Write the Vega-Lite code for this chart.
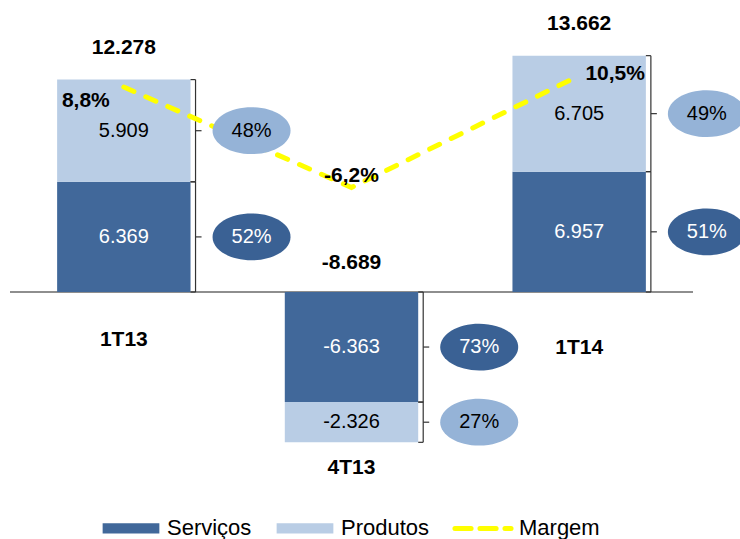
{
 "$schema": "https://vega.github.io/schema/vega-lite/v6.json",
 "width": 683,
 "height": 480,
 "autosize": {"type": "none"},
 "padding": {"left": 10, "top": 0, "right": 47, "bottom": 59},
 "background": "white",
 "config": {
  "view": {"stroke": null},
  "font": "Liberation Sans",
  "locale": {"number": {"decimal": ",", "thousands": ".", "grouping": [3], "currency": ["R$", ""], "minus": "-", "percent": "%"}}
 },
 "datasets": {
  "seg": [
   {"cat": "1T13", "serie": "Serviços", "value": 6369, "pct": 0.52},
   {"cat": "1T13", "serie": "Produtos", "value": 5909, "pct": 0.48},
   {"cat": "4T13", "serie": "Serviços", "value": -6363, "pct": 0.73},
   {"cat": "4T13", "serie": "Produtos", "value": -2326, "pct": 0.27},
   {"cat": "1T14", "serie": "Serviços", "value": 6957, "pct": 0.51},
   {"cat": "1T14", "serie": "Produtos", "value": 6705, "pct": 0.49}
  ],
  "tot": [
   {"cat": "1T13", "total": 12278, "margem": 0.088},
   {"cat": "4T13", "total": -8689, "margem": -0.062},
   {"cat": "1T14", "total": 13662, "margem": 0.105}
  ]
 },
 "layer": [
  {
   "layer": [
    {
     "data": {"name": "tot"},
     "mark": {"type": "rule", "color": "#8C8C8C", "strokeWidth": 1.3},
     "encoding": {"y": {"datum": 0, "type": "quantitative", "scale": {"domain": [-10867, 16879], "nice": false, "zero": false}, "axis": null}}
    },
    {
     "data": {"name": "seg"},
     "transform": [
      {"stack": "value", "groupby": ["cat"], "sort": [{"field": "serie", "order": "descending"}], "as": ["y0", "y1"]},
      {"calculate": "(datum.y0+datum.y1)/2", "as": "ymid"}
     ],
     "mark": {"type": "bar"},
     "encoding": {
      "x": {"field": "cat", "type": "nominal", "scale": {"domain": ["1T13", "4T13", "1T14"], "paddingInner": 0.414, "paddingOuter": 0.207}, "axis": null},
      "y": {"field": "y0", "type": "quantitative", "scale": {"domain": [-10867, 16879], "nice": false, "zero": false}, "axis": null},
      "y2": {"field": "y1"},
      "color": {
       "field": "serie", "type": "nominal",
       "scale": {"domain": ["Serviços", "Produtos", "Margem"], "range": ["#41689A", "#B9CDE5", "#FFFF00"]},
       "legend": {
        "orient": "none", "legendX": 88, "legendY": 495, "direction": "horizontal", "title": null,
        "labelFontSize": 22, "labelFont": "Liberation Sans", "labelColor": "black",
        "symbolSize": 3721, "symbolStrokeWidth": 5, "labelOffset": 3, "columnPadding": 14, "padding": 0,
        "encode": {"symbols": {"update": {
         "shape": {"signal": "datum.value === 'Margem' ? 'M-0.93,-0.17M-0.93,0.17M-0.92,0H-0.39M-0.1,0H0.43M0.72,0H0.92' : 'M-0.93,-0.17H0.93V0.17H-0.93Z'"},
         "size": {"value": 3721},
         "stroke": {"signal": "datum.value === 'Margem' ? '#FFFF00' : 'transparent'"},
         "strokeWidth": {"value": 5},
         "strokeCap": {"value": "round"},
         "opacity": {"value": 1}
        }}}
       }
      }
     }
    },
    {
     "data": {"name": "seg"},
     "transform": [
      {"stack": "value", "groupby": ["cat"], "sort": [{"field": "serie", "order": "descending"}], "as": ["y0", "y1"]},
      {"calculate": "(datum.y0+datum.y1)/2", "as": "ymid"}
     ],
     "mark": {"type": "text", "fontSize": 20},
     "encoding": {
      "x": {"field": "cat", "type": "nominal", "scale": {"domain": ["1T13", "4T13", "1T14"], "paddingInner": 0.414, "paddingOuter": 0.207}, "axis": null},
      "y": {"field": "ymid", "type": "quantitative"},
      "text": {"field": "value", "type": "quantitative", "format": ",.0f"},
      "color": {"condition": {"test": "datum.serie === 'Serviços'", "value": "white"}, "value": "black"}
     }
    },
    {
     "data": {"name": "seg"},
     "transform": [
      {"stack": "value", "groupby": ["cat"], "sort": [{"field": "serie", "order": "descending"}], "as": ["y0", "y1"]}
     ],
     "mark": {"type": "rule", "color": "#333333", "strokeWidth": 1.2, "xOffset": 5},
     "encoding": {
      "x": {"field": "cat", "type": "nominal", "bandPosition": 1, "scale": {"domain": ["1T13", "4T13", "1T14"], "paddingInner": 0.414, "paddingOuter": 0.207}, "axis": null},
      "y": {"field": "y0", "type": "quantitative"},
      "y2": {"field": "y1"}
     }
    },
    {
     "data": {"name": "seg"},
     "transform": [
      {"stack": "value", "groupby": ["cat"], "sort": [{"field": "serie", "order": "descending"}], "as": ["y0", "y1"]}
     ],
     "mark": {"type": "rule", "color": "#333333", "strokeWidth": 1.2, "xOffset": 0, "x2Offset": 5},
     "encoding": {
      "x": {"field": "cat", "type": "nominal", "bandPosition": 1, "scale": {"domain": ["1T13", "4T13", "1T14"], "paddingInner": 0.414, "paddingOuter": 0.207}, "axis": null},
      "x2": {"field": "cat", "bandPosition": 1},
      "y": {"field": "y0", "type": "quantitative"}
     }
    },
    {
     "data": {"name": "seg"},
     "transform": [
      {"stack": "value", "groupby": ["cat"], "sort": [{"field": "serie", "order": "descending"}], "as": ["y0", "y1"]}
     ],
     "mark": {"type": "rule", "color": "#333333", "strokeWidth": 1.2, "xOffset": 0, "x2Offset": 5},
     "encoding": {
      "x": {"field": "cat", "type": "nominal", "bandPosition": 1, "scale": {"domain": ["1T13", "4T13", "1T14"], "paddingInner": 0.414, "paddingOuter": 0.207}, "axis": null},
      "x2": {"field": "cat", "bandPosition": 1},
      "y": {"field": "y1", "type": "quantitative"}
     }
    },
    {
     "data": {"name": "seg"},
     "transform": [
      {"stack": "value", "groupby": ["cat"], "sort": [{"field": "serie", "order": "descending"}], "as": ["y0", "y1"]},
      {"calculate": "(datum.y0+datum.y1)/2", "as": "ymid"}
     ],
     "mark": {"type": "rule", "color": "#333333", "strokeWidth": 1.2, "xOffset": 5, "x2Offset": 11},
     "encoding": {
      "x": {"field": "cat", "type": "nominal", "bandPosition": 1, "scale": {"domain": ["1T13", "4T13", "1T14"], "paddingInner": 0.414, "paddingOuter": 0.207}, "axis": null},
      "x2": {"field": "cat", "bandPosition": 1},
      "y": {"field": "ymid", "type": "quantitative"}
     }
    },
    {
     "data": {"name": "tot"},
     "transform": [{"filter": "datum.total > 0"}],
     "mark": {"type": "text", "fontSize": 21, "fontWeight": "bold", "dy": -32},
     "encoding": {
      "x": {"field": "cat", "type": "nominal", "scale": {"domain": ["1T13", "4T13", "1T14"], "paddingInner": 0.414, "paddingOuter": 0.207}, "axis": null},
      "y": {"field": "total", "type": "quantitative"},
      "text": {"field": "total", "type": "quantitative", "format": ",.0f"}
     }
    },
    {
     "data": {"name": "tot"},
     "transform": [{"filter": "datum.total < 0"}],
     "mark": {"type": "text", "fontSize": 21, "fontWeight": "bold", "dy": -29},
     "encoding": {
      "x": {"field": "cat", "type": "nominal", "scale": {"domain": ["1T13", "4T13", "1T14"], "paddingInner": 0.414, "paddingOuter": 0.207}, "axis": null},
      "y": {"datum": 0, "type": "quantitative"},
      "text": {"field": "total", "type": "quantitative", "format": ",.0f"}
     }
    },
    {
     "data": {"name": "tot"},
     "transform": [{"filter": "datum.cat === '1T13'"}],
     "mark": {"type": "text", "fontSize": 21, "fontWeight": "bold", "dy": 48},
     "encoding": {
      "x": {"field": "cat", "type": "nominal", "scale": {"domain": ["1T13", "4T13", "1T14"], "paddingInner": 0.414, "paddingOuter": 0.207}, "axis": null},
      "y": {"datum": 0, "type": "quantitative"},
      "text": {"field": "cat", "type": "nominal"}
     }
    },
    {
     "data": {"name": "tot"},
     "transform": [{"filter": "datum.cat === '1T14'"}],
     "mark": {"type": "text", "fontSize": 21, "fontWeight": "bold", "dy": 56},
     "encoding": {
      "x": {"field": "cat", "type": "nominal", "scale": {"domain": ["1T13", "4T13", "1T14"], "paddingInner": 0.414, "paddingOuter": 0.207}, "axis": null},
      "y": {"datum": 0, "type": "quantitative"},
      "text": {"field": "cat", "type": "nominal"}
     }
    },
    {
     "data": {"name": "tot"},
     "transform": [{"filter": "datum.cat === '4T13'"}],
     "mark": {"type": "text", "fontSize": 21, "fontWeight": "bold", "dy": 26},
     "encoding": {
      "x": {"field": "cat", "type": "nominal", "scale": {"domain": ["1T13", "4T13", "1T14"], "paddingInner": 0.414, "paddingOuter": 0.207}, "axis": null},
      "y": {"field": "total", "type": "quantitative"},
      "text": {"field": "cat", "type": "nominal"}
     }
    }
   ]
  },
  {
   "layer": [
    {
     "data": {"name": "tot"},
     "mark": {"type": "line", "color": "#FFFF00", "strokeWidth": 5, "strokeDash": [11, 13], "strokeCap": "round"},
     "encoding": {
      "x": {"field": "cat", "type": "nominal", "scale": {"domain": ["1T13", "4T13", "1T14"], "paddingInner": 0.414, "paddingOuter": 0.207}, "axis": null},
      "y": {"field": "margem", "type": "quantitative", "scale": {"domain": [-0.4985, 0.2179], "nice": false, "zero": false}, "axis": null}
     }
    },
    {
     "data": {"name": "tot"},
     "transform": [{"filter": "datum.cat === '1T13'"}],
     "mark": {"type": "text", "fontSize": 21, "fontWeight": "bold", "dx": -38, "dy": 14},
     "encoding": {
      "x": {"field": "cat", "type": "nominal", "scale": {"domain": ["1T13", "4T13", "1T14"], "paddingInner": 0.414, "paddingOuter": 0.207}, "axis": null},
      "y": {"field": "margem", "type": "quantitative"},
      "text": {"field": "margem", "type": "quantitative", "format": ".1%"}
     }
    },
    {
     "data": {"name": "tot"},
     "transform": [{"filter": "datum.cat === '4T13'"}],
     "mark": {"type": "text", "fontSize": 21, "fontWeight": "bold", "dx": 0, "dy": -12},
     "encoding": {
      "x": {"field": "cat", "type": "nominal", "scale": {"domain": ["1T13", "4T13", "1T14"], "paddingInner": 0.414, "paddingOuter": 0.207}, "axis": null},
      "y": {"field": "margem", "type": "quantitative"},
      "text": {"field": "margem", "type": "quantitative", "format": ".1%"}
     }
    },
    {
     "data": {"name": "tot"},
     "transform": [{"filter": "datum.cat === '1T14'"}],
     "mark": {"type": "text", "fontSize": 21, "fontWeight": "bold", "dx": 36, "dy": -2},
     "encoding": {
      "x": {"field": "cat", "type": "nominal", "scale": {"domain": ["1T13", "4T13", "1T14"], "paddingInner": 0.414, "paddingOuter": 0.207}, "axis": null},
      "y": {"field": "margem", "type": "quantitative"},
      "text": {"field": "margem", "type": "quantitative", "format": ".1%"}
     }
    }
   ]
  },
  {
   "layer": [
    {
     "data": {"name": "seg"},
     "transform": [
      {"stack": "value", "groupby": ["cat"], "sort": [{"field": "serie", "order": "descending"}], "as": ["y0", "y1"]},
      {"calculate": "(datum.y0+datum.y1)/2", "as": "ymid"}
     ],
     "mark": {"type": "point", "shape": "M-1,0A1,0.6 0 1,0 1,0A1,0.6 0 1,0 -1,0Z", "size": 6084, "filled": true, "opacity": 1, "xOffset": 61},
     "encoding": {
      "x": {"field": "cat", "type": "nominal", "bandPosition": 1, "scale": {"domain": ["1T13", "4T13", "1T14"], "paddingInner": 0.414, "paddingOuter": 0.207}, "axis": null},
      "y": {"field": "ymid", "type": "quantitative", "scale": {"domain": [-10867, 16879], "nice": false, "zero": false}, "axis": null},
      "color": {"condition": {"test": "datum.serie === 'Serviços'", "value": "#3A6194"}, "value": "#95B3D7"}
     }
    },
    {
     "data": {"name": "seg"},
     "transform": [
      {"stack": "value", "groupby": ["cat"], "sort": [{"field": "serie", "order": "descending"}], "as": ["y0", "y1"]},
      {"calculate": "(datum.y0+datum.y1)/2", "as": "ymid"}
     ],
     "mark": {"type": "text", "fontSize": 20, "xOffset": 61},
     "encoding": {
      "x": {"field": "cat", "type": "nominal", "bandPosition": 1, "scale": {"domain": ["1T13", "4T13", "1T14"], "paddingInner": 0.414, "paddingOuter": 0.207}, "axis": null},
      "y": {"field": "ymid", "type": "quantitative"},
      "text": {"field": "pct", "type": "quantitative", "format": ".0%"},
      "color": {"condition": {"test": "datum.serie === 'Serviços'", "value": "white"}, "value": "black"}
     }
    }
   ]
  }
 ],
 "resolve": {"scale": {"y": "independent"}}
}
